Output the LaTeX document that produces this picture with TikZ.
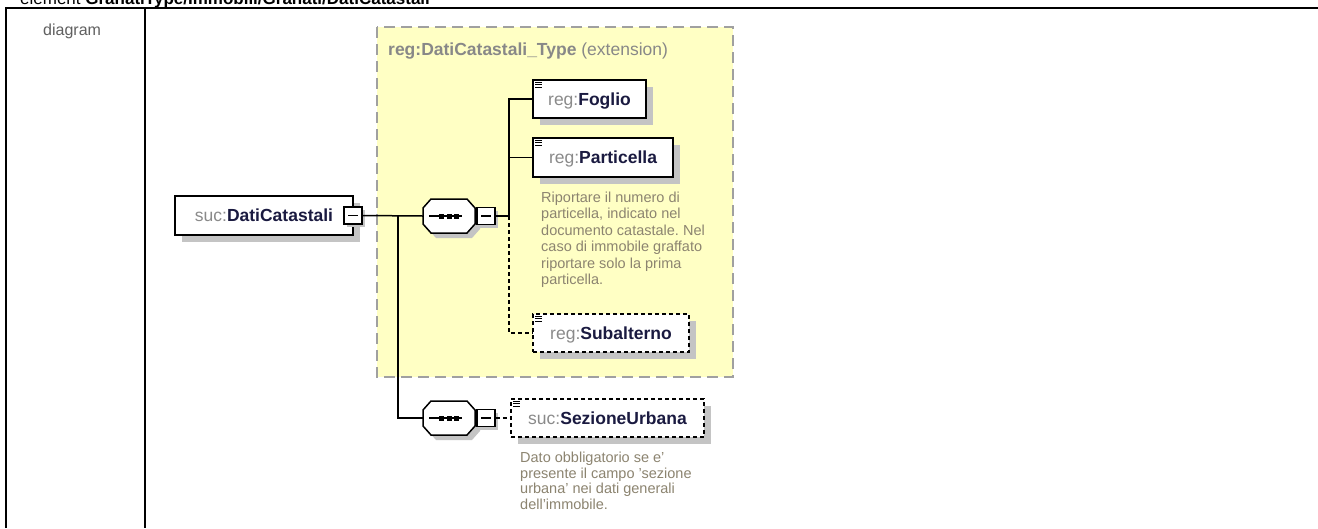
\documentclass[tikz,border=0pt]{standalone}
\usepackage{fontspec}
\setmainfont{Liberation Sans}
\usetikzlibrary{shadows}
\definecolor{pfx}{RGB}{138,138,138}
\definecolor{nm}{RGB}{26,26,64}
\definecolor{shadowgray}{RGB}{196,196,196}
\definecolor{yfill}{RGB}{255,255,196}
\definecolor{yborder}{RGB}{160,160,160}
\definecolor{ttlgray}{RGB}{136,136,136}
\definecolor{desccol}{RGB}{140,132,112}
\definecolor{lblgray}{RGB}{96,96,96}
\newcommand\xslabel[2]{\textcolor{pfx}{#1:}\textbf{\textcolor{nm}{#2}}}
\frenchspacing
\begin{document}
\begin{tikzpicture}[x=1pt,y=-1pt,
  elem/.style={rectangle, draw=black, line width=1.5pt, fill=white, inner sep=0pt,
    text height=15pt, text depth=3pt, font=\fontsize{17.5}{20}\selectfont,
    general shadow={fill=shadowgray, shadow xshift=7pt, shadow yshift=-7pt}},
  optelem/.style={elem, dash pattern=on 4pt off 3pt},
  seqanchor/.style={rectangle, inner sep=0pt, minimum width=52pt, minimum height=34pt},
  octo/.style={draw=black, line width=1.5pt, fill=white},
  minusbox/.style={rectangle, draw=black, line width=1.5pt, fill=white, inner sep=0pt,
    minimum width=18pt, minimum height=17pt,
    general shadow={fill=shadowgray, shadow xshift=3pt, shadow yshift=-3pt},
    path picture={\draw[line width=1.3pt] ([xshift=4pt]path picture bounding box.west) -- ([xshift=-4pt]path picture bounding box.east);}},
  conn/.style={draw=black, line width=1.5pt},
  optconn/.style={conn, dash pattern=on 4pt off 3pt},
  desc/.style={align=left, inner sep=0pt, text=desccol},
  tablerule/.style={draw=black, line width=2pt}
]
\useasboundingbox (0,0) rectangle (1318,528);
\fill[white] (0,0) rectangle (1318,528);

% header (cut off at the top)
\node[anchor=base west, inner sep=0pt, font=\fontsize{17}{20}\selectfont] (hdr) at (20,4.5)
  {element \textbf{GranatiType/Immobili/Granati/DatiCatastali}};

% table frame
\draw[tablerule] (6,528) -- (6,8) -- (1318,8);
\draw[tablerule] (145,8) -- (145,528);
\node[anchor=base west, inner sep=0pt, text=lblgray, font=\fontsize{16}{18}\selectfont] (diag) at (43,35) {diagram};

% extension type box
\draw[fill=yfill, draw=yborder, line width=2pt, dash pattern=on 11pt off 6pt] (377,27) rectangle (733,377);
\node[anchor=base west, inner sep=0pt, text=ttlgray, font=\fontsize{17.5}{20}\selectfont] (ttl) at (388,55)
  {\textbf{reg:DatiCatastali\_Type} (extension)};

% root element
\node[elem, minimum width=178pt, minimum height=39pt] (dc) at (264,215.5) {\xslabel{suc}{DatiCatastali}};
\node[minusbox] (m0) at (353,215.5) {};

% sequences (octagons)
\node[seqanchor] (s1) at (449,216) {};
\node[seqanchor] (s2) at (449,418) {};
\foreach \s in {s1,s2} {
  \fill[shadowgray] ([xshift=5pt,yshift=-5pt]\s.center) ++(-26,-8) -- ++(8,-9) -- ++(36,0) -- ++(8,9)
     -- ++(0,16) -- ++(-8,9) -- ++(-36,0) -- ++(-8,-9) -- cycle;
  \draw[octo] (\s.center) ++(-26,-8) -- ++(8,-9) -- ++(36,0) -- ++(8,9)
     -- ++(0,16) -- ++(-8,9) -- ++(-36,0) -- ++(-8,-9) -- cycle;
  \draw[line width=1.5pt] ([xshift=-20pt]\s.center) -- ([xshift=13pt]\s.center);
  \foreach \dx in {-7.5,0,7.5} {
    \fill ([xshift=\dx pt]\s.center) +(-2.5,-2.5) rectangle +(2.5,2.5);
  }
}
\node[minusbox] (m1) at (486,216) {};
\node[minusbox] (m2) at (486,418) {};

% child elements
\node[elem, minimum width=113pt, minimum height=38pt] (fog) at (589.5,99) {\xslabel{reg}{Foglio}};
\node[elem, minimum width=140pt, minimum height=39pt] (par) at (603,157.5) {\xslabel{reg}{Particella}};
\node[optelem, minimum width=156pt, minimum height=38pt] (sub) at (611,333) {\xslabel{reg}{Subalterno}};
\node[optelem, minimum width=193pt, minimum height=38pt] (sez) at (607.5,418) {\xslabel{suc}{SezioneUrbana}};

% element icons
\foreach \n in {fog,par,sub,sez} {
  \fill[white] ([xshift=2pt,yshift=-1.5pt]\n.north west) rectangle ([xshift=11pt,yshift=-9.5pt]\n.north west);
  \foreach \dy in {3,5.5,8} {
    \draw[line width=0.9pt] ([xshift=3pt,yshift=-\dy pt]\n.north west) -- ++(7,0);
  }
}

% annotations
\node[desc, anchor=north west, font=\fontsize{14.5}{16.5}\selectfont] (pdesc) at (541,191.5)
  {Riportare il numero di\\particella, indicato nel\\documento catastale. Nel\\caso di immobile graffato\\riportare solo la prima\\particella.};
\node[desc, anchor=north west, font=\fontsize{14.5}{15.8}\selectfont] (sdesc) at (520,451.5)
  {Dato obbligatorio se e'\\presente il campo 'sezione\\urbana' nei dati generali\\dell'immobile.};

% connectors
\coordinate (b0) at (398,216);
\coordinate (b1) at (509,216);
\draw[conn] (m0.east) -- (s1.west);
\draw[conn] (b0) |- (s2.west);
\draw[conn] (m1.east) -- (b1);
\draw[conn] (b1) |- (fog.west);
\draw[conn] (b1) |- (par.west);
\draw[optconn] (b1) |- (sub.west);
\draw[optconn] (m2.east) -- (sez.west);
\end{tikzpicture}
\end{document}
